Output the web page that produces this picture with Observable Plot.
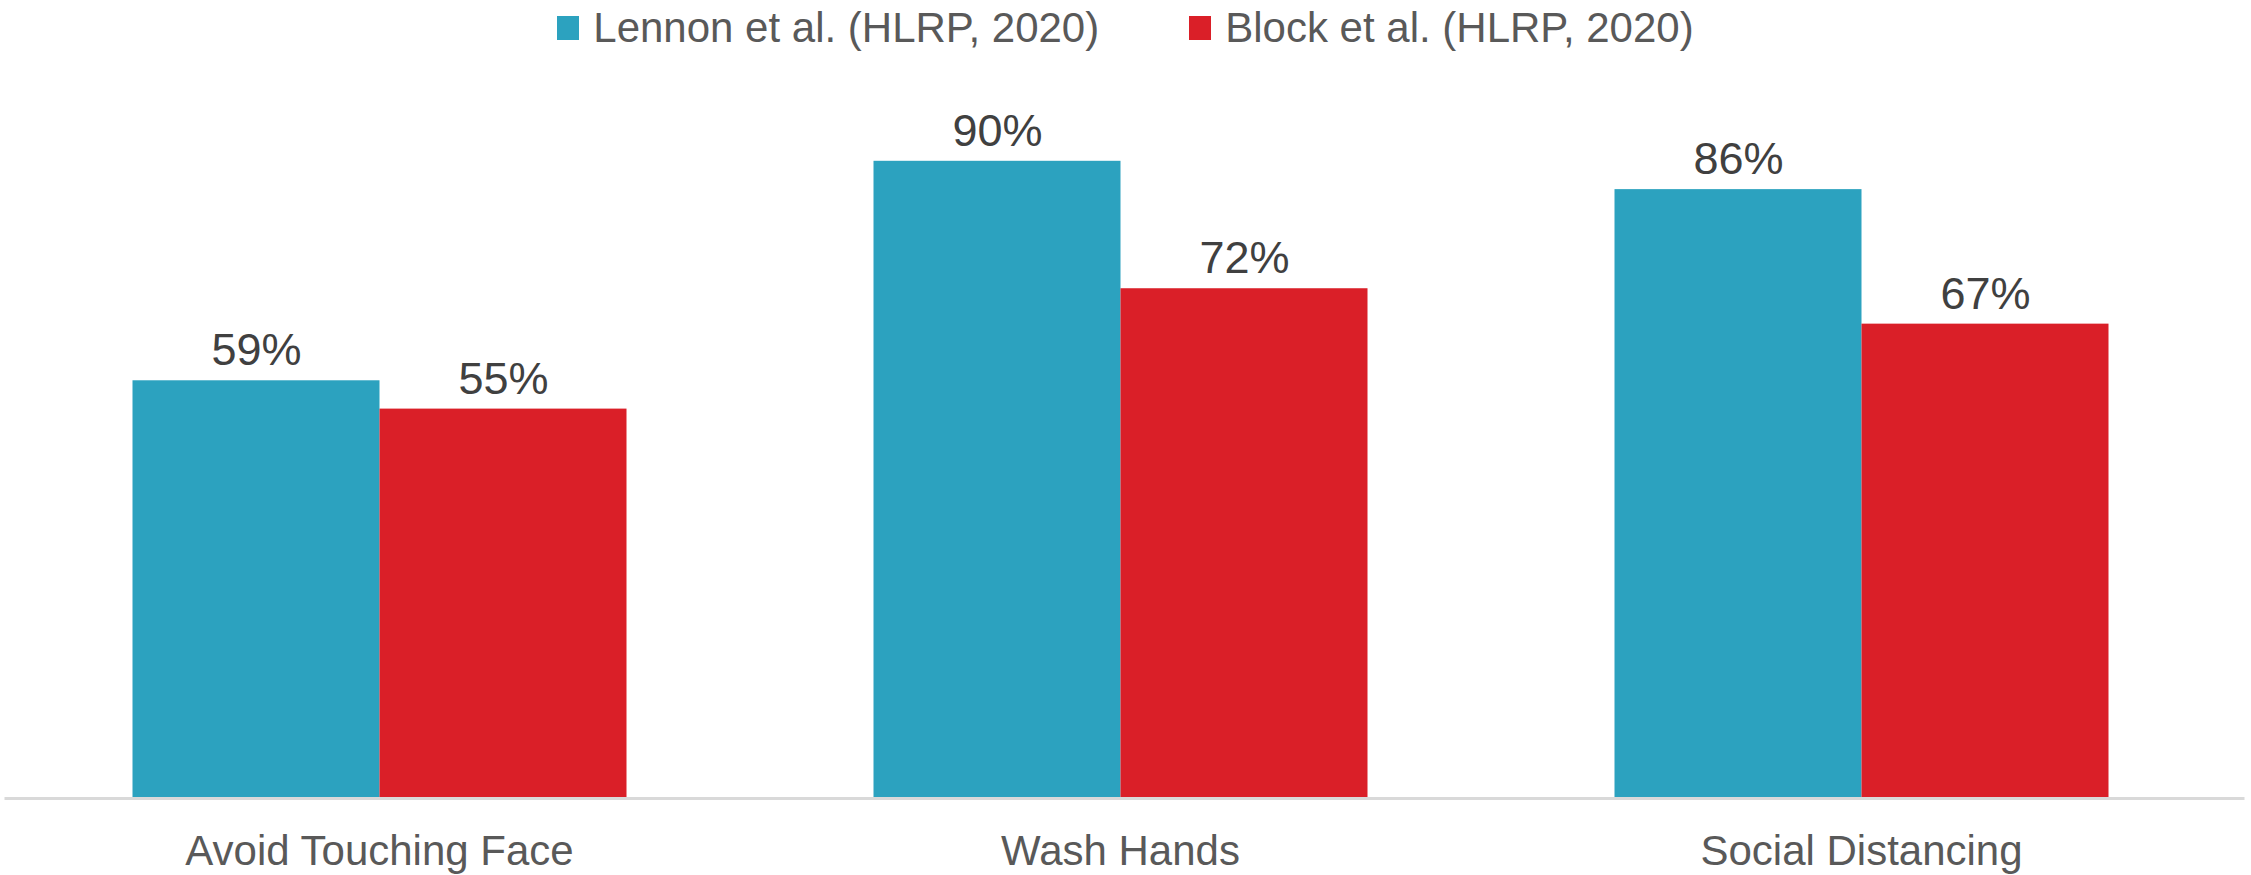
<!DOCTYPE html>
<html>
<head>
<meta charset="utf-8">
<script src="https://cdn.jsdelivr.net/npm/d3@7"></script>
<script src="https://cdn.jsdelivr.net/npm/@observablehq/plot@0.6"></script>
<style>
  html, body { margin: 0; padding: 0; background: #fff; }
  body { width: 2251px; height: 875px; overflow: hidden; font-family: "Liberation Sans", Arial, sans-serif; }
  #legend { height: 56px; display: flex; justify-content: center; align-items: center; gap: 90px; color: #595959; font-size: 42px; }
  .item { display: flex; align-items: center; gap: 14px; }
  .sw { width: 22px; height: 24px; display: inline-block; }
  svg { display: block; }
</style>
</head>
<body>
<div id="legend"></div>
<div id="chart"></div>
<script>
const categories = ["Avoid Touching Face", "Wash Hands", "Social Distancing"];
const seriesNames = ["Lennon et al. (HLRP, 2020)", "Block et al. (HLRP, 2020)"];
const lennonValues = [0.59, 0.90, 0.86];
const blockValues = [0.55, 0.72, 0.67];
const seriesColors = ["#2CA2BF", "#DA1F28"];

const data = [];
categories.forEach((c, i) => {
  data.push({category: c, series: seriesNames[0], value: lennonValues[i]});
  data.push({category: c, series: seriesNames[1], value: blockValues[i]});
});

const legend = document.getElementById("legend");
seriesNames.forEach((s, i) => {
  const item = document.createElement("div");
  item.className = "item";
  const sw = document.createElement("span");
  sw.className = "sw";
  sw.style.background = seriesColors[i];
  const t = document.createElement("span");
  t.textContent = s;
  item.appendChild(sw);
  item.appendChild(t);
  legend.appendChild(item);
});

const chart = Plot.plot({
  width: 2251,
  height: 819,
  marginTop: 34,
  marginBottom: 77,
  marginLeft: 8.5,
  marginRight: 19.5,
  style: {fontFamily: "'Liberation Sans', Arial, sans-serif", background: "#fff"},
  fx: {domain: categories, paddingInner: 1/3, paddingOuter: 1/6, label: null},
  x: {domain: seriesNames, padding: 0, axis: null},
  y: {domain: [0, 1], axis: null},
  color: {domain: seriesNames, range: seriesColors},
  marks: [
    Plot.barY(data, {fx: "category", x: "series", y: "value", fill: "series"}),
    Plot.text(data, {fx: "category", x: "series", y: "value", text: d => Math.round(d.value * 100) + "%", dy: -30, fontSize: 45, fill: "#404040"}),
    Plot.frame({facet: "super", anchor: "bottom", stroke: "#D9D9D9", strokeWidth: 3, insetLeft: -126.5, insetRight: -134.5}),
    Plot.axisFx({anchor: "bottom", tickSize: 0, tickPadding: 37, fontSize: 42, fill: "#595959", label: null})
  ]
});
document.getElementById("chart").appendChild(chart);
</script>
</body>
</html>
